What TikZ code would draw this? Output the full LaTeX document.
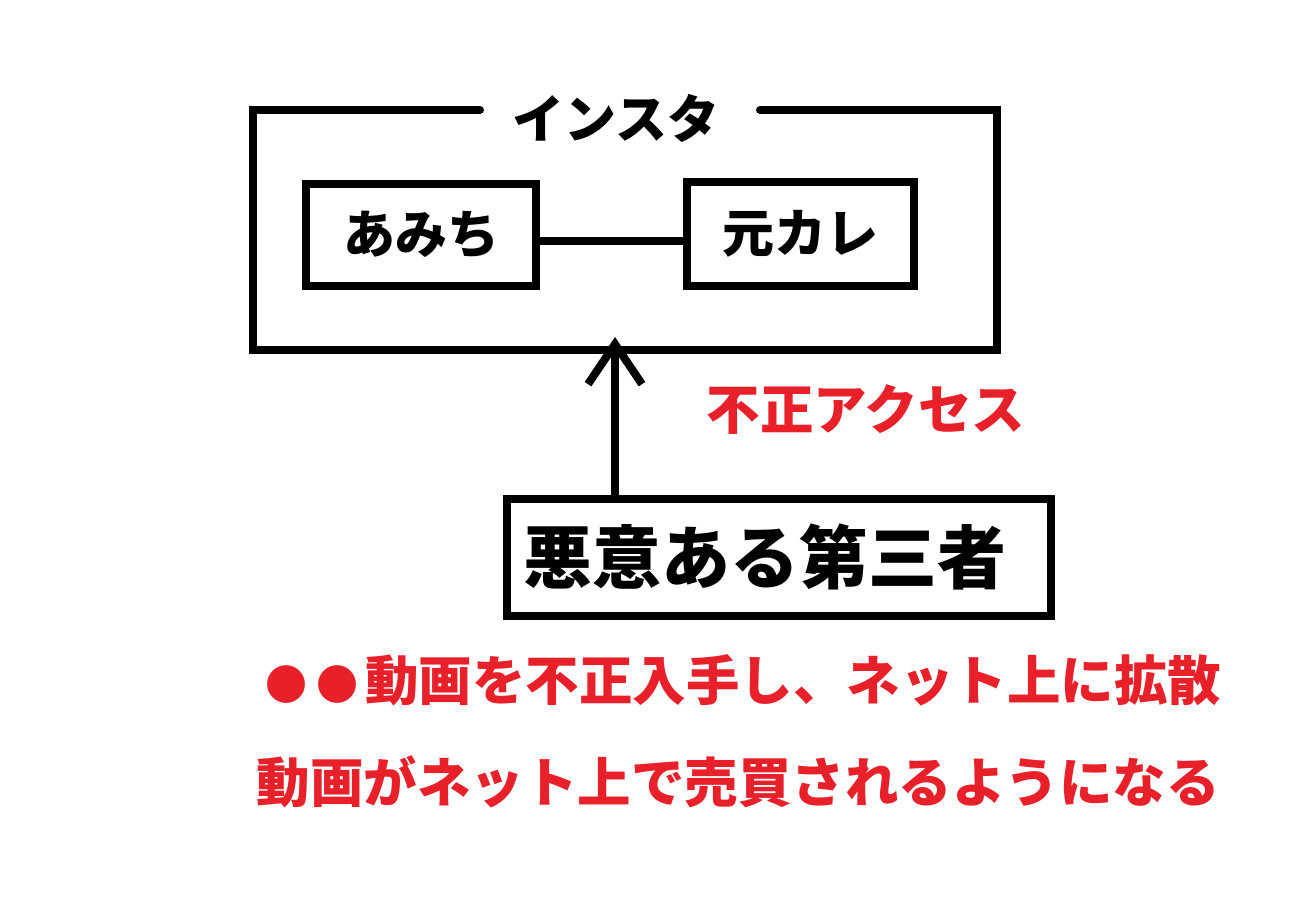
\documentclass[tikz,border=0pt]{standalone}
\usepackage{fontspec}
\setmainfont{Noto Sans CJK JP}
\usetikzlibrary{arrows.meta}
\definecolor{alertred}{HTML}{E8202A}
\tikzset{
  thick line/.style={line width=8pt, line cap=round, line join=miter},
  boxnode/.style={draw, line width=8pt, inner sep=0pt, font=\fontsize{52}{60}\selectfont\bfseries},
  redtext/.style={text=alertred, inner sep=0pt, font=\fontsize{53.5}{60}\selectfont\bfseries},
  labeltext/.style={inner sep=0pt, font=\fontsize{52}{60}\selectfont\bfseries}
}
\begin{document}
\begin{tikzpicture}[x=1pt, y=-1pt]
\useasboundingbox[fill=white] (0,0) rectangle (1300,916);
% outer frame
\draw[thick line] (480,110) -- (253,110) -- (253,350) -- (997,350) -- (997,110) -- (760,110);
\node[labeltext] (insta) at (616,118) {インスタ};
% inner boxes
\node[boxnode, minimum width=230pt, minimum height=102pt] (amichi) at (421,235) {あみち};
\node[boxnode, minimum width=227pt, minimum height=104pt] (ex) at (800,234) {元カレ};
\draw[line width=8pt] (amichi.east |- 0,241) -- (ex.west |- 0,241);
% third party
\node[boxnode, minimum width=544pt, minimum height=117pt, font=\fontsize{69}{76}\selectfont\bfseries] (third) at (779,557) {悪意ある第三者\hspace*{28pt}};
\coordinate (tip) at (615,337);
\draw[line width=8pt, -{Straight Barb[length=40pt, width=54pt]}] (third.north -| tip) -- (tip);
% red texts
\node[redtext] (access) at (866,410) {不正アクセス};
\node[redtext] (line1) at (743,680) {{\fontsize{42}{50}\selectfont ●\hspace{10pt}●\hspace{6pt}}動画を不正入手し、ネット上に拡散};
\node[redtext] (line2) at (738,782) {動画がネット上で売買されるようになる};
\end{tikzpicture}
\end{document}
